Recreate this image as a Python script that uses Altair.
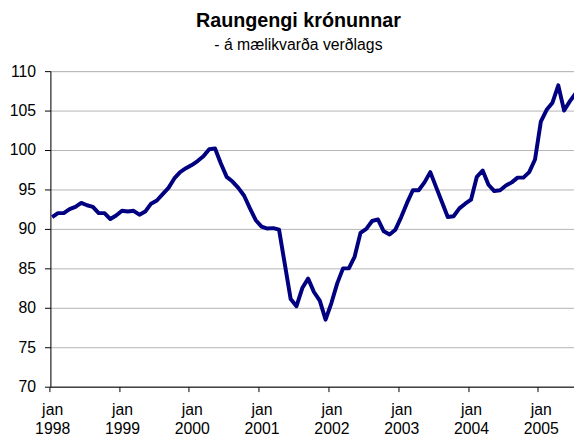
import json
import altair as alt
import pandas as pd

# Raungengi krónunnar, monthly index, jan 1998 - jul 2005
years = ["1998", "1999", "2000", "2001", "2002", "2003", "2004", "2005"]
v1998 = [91.5, 92.0, 92.0, 92.5, 92.8, 93.3, 93.0, 92.8, 92.0, 92.0, 91.25, 91.7]
v1999 = [92.3, 92.2, 92.3, 91.8, 92.2, 93.2, 93.6, 94.4, 95.2, 96.4, 97.2, 97.7]
v2000 = [98.1, 98.6, 99.2, 100.1, 100.2, 98.3, 96.6, 96.0, 95.2, 94.2, 92.6, 91.1]
v2001 = [90.3, 90.05, 90.1, 89.9, 85.5, 81.1, 80.2, 82.5, 83.7, 82.0, 80.9, 78.5]
v2002 = [80.6, 83.1, 85.0, 85.0, 86.5, 89.5, 90.0, 91.0, 91.2, 89.7, 89.3, 89.9]
v2003 = [91.5, 93.3, 94.9, 94.9, 95.9, 97.2, 95.3, 93.4, 91.5, 91.6, 92.6, 93.2]
v2004 = [93.7, 96.6, 97.4, 95.6, 94.8, 94.9, 95.5, 95.9, 96.5, 96.5, 97.2, 98.8]
v2005 = [103.6, 105.1, 106.0, 108.2, 105.0, 106.2, 107.2]
y_ticks = [70, 75, 80, 85, 90, 95, 100, 105, 110]

series = [v1998, v1999, v2000, v2001, v2002, v2003, v2004, v2005]
rows = []
for yi, vals in enumerate(series):
    for mi, v in enumerate(vals):
        rows.append({"m": yi * 12 + mi, "v": v})
df = pd.DataFrame(rows)

tick_vals = [i * 12 for i in range(len(years))]
label_expr = "['jan', " + json.dumps(years) + "[round(datum.value / 12)]]"

FONT = "Liberation Sans"
W = 531
step = 5.9  # px per month
x_min = -0.3
x_max = x_min + W / step

chart = (
    alt.Chart(df)
    .mark_line(color="#000080", strokeWidth=4, strokeJoin="round")
    .encode(
        x=alt.X(
            "m:Q",
            scale=alt.Scale(domain=[x_min, x_max], nice=False, zero=False),
            axis=alt.Axis(
                title=None,
                values=tick_vals,
                labelExpr=label_expr,
                grid=False,
                domainColor="#000000",
                tickColor="#000000",
                tickSize=5,
                tickOffset=-step / 2,
                labelOffset=step / 2,
                labelPadding=10,
                labelFont=FONT,
                labelFontSize=16,
                labelColor="#000000",
                labelLineHeight=19,
                labelBaseline="top",
                labelBound=False,
                labelOverlap=False,
            ),
        ),
        y=alt.Y(
            "v:Q",
            scale=alt.Scale(domain=[70, 110], nice=False, zero=False),
            axis=alt.Axis(
                title=None,
                values=y_ticks,
                grid=True,
                gridColor="#B4B4B4",
                gridWidth=1,
                domainColor="#000000",
                tickColor="#000000",
                tickSize=6,
                labelPadding=9,
                labelFont=FONT,
                labelFontSize=16,
                labelColor="#000000",
            ),
        ),
    )
    .properties(
        width=W,
        height=320,
        padding={"left": 43, "top": 61, "right": 0, "bottom": 48},
        autosize=alt.AutoSizeParams(type="none"),
        title=alt.TitleParams(
            text="Raungengi krónunnar",
            subtitle="- á mælikvarða verðlags",
            anchor="middle",
            frame="group",
            dx=-14,
            offset=10,
            font=FONT,
            fontSize=20,
            fontWeight="bold",
            color="#000000",
            subtitleFont=FONT,
            subtitleFontSize=16,
            subtitleColor="#000000",
            subtitlePadding=7,
        ),
    )
    .configure_view(strokeWidth=0)
    .configure(background="#ffffff")
)

chart.save("out.html", embed_options={"renderer": "svg", "actions": False})
